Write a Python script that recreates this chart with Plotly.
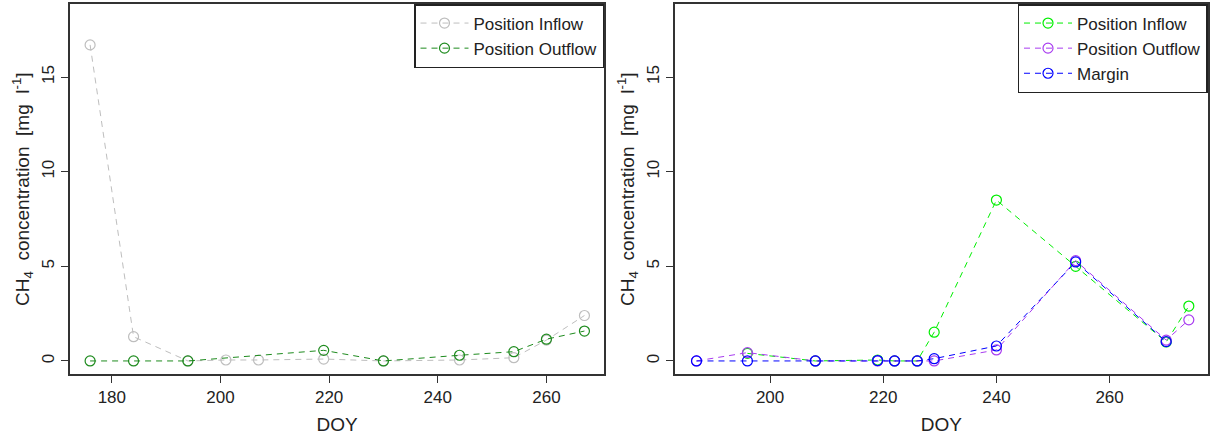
import plotly.graph_objects as go

# Left panel data
left_in_doy = [176, 184, 194, 201, 207, 219, 230, 244, 254, 260, 267]
left_in_val = [16.7, 1.28, 0.0, 0.05, 0.05, 0.1, 0.0, 0.05, 0.17, 1.1, 2.4]
left_out_doy = [176, 184, 194, 219, 230, 244, 254, 260, 267]
left_out_val = [0.0, 0.0, 0.0, 0.56, 0.0, 0.3, 0.49, 1.15, 1.58]

# Right panel data
right_in_doy = [196, 208, 219, 222, 226, 229, 240, 254, 270, 274]
right_in_val = [0.4, 0.0, 0.05, 0.0, 0.0, 1.52, 8.5, 5.0, 1.0, 2.9]
right_out_doy = [187, 196, 208, 219, 222, 226, 229, 240, 254, 270, 274]
right_out_val = [0.0, 0.44, 0.0, 0.0, 0.0, 0.0, 0.0, 0.58, 5.3, 1.1, 2.17]
right_mar_doy = [187, 196, 208, 219, 222, 226, 229, 240, 254, 270]
right_mar_val = [0.0, 0.0, 0.0, 0.02, 0.0, 0.0, 0.12, 0.79, 5.23, 1.02]

y_ticks = [0, 5, 10, 15]
left_x_ticks = [180, 200, 220, 240, 260]
right_x_ticks = [200, 220, 240, 260]

FONT = "Liberation Sans, Arial, sans-serif"

fig = go.Figure()

def add(x, y, name, color, xa, ya, legend):
    fig.add_trace(go.Scatter(
        x=x, y=y, name=name, mode="lines+markers",
        line=dict(color=color, width=1, dash="6px,5px"),
        marker=dict(symbol="circle-open", size=10, color=color, line=dict(width=1.2, color=color)),
        xaxis=xa, yaxis=ya, legend=legend,
    ))

add(left_in_doy, left_in_val, "Position Inflow", "#BEBEBE", "x", "y", "legend")
add(left_out_doy, left_out_val, "Position Outflow", "#1E8B1E", "x", "y", "legend")
add(right_in_doy, right_in_val, "Position Inflow", "#00EE00", "x2", "y2", "legend2")
add(right_out_doy, right_out_val, "Position Outflow", "#A83CF0", "x2", "y2", "legend2")
add(right_mar_doy, right_mar_val, "Margin", "#0000FF", "x2", "y2", "legend2")

ydom = [61/435, 431/435]
axis_common = dict(showline=True, linecolor="#333333", linewidth=1.5, mirror=True,
                   ticks="outside", ticklen=7, tickcolor="#333333", showgrid=False,
                   zeroline=False, tickfont=dict(family=FONT, size=17, color="#222222"))

leg_common = dict(xanchor="right", yanchor="top", bordercolor="#222222", borderwidth=1.5,
                  bgcolor="white", font=dict(size=17, family=FONT, color="#222222"),
                  tracegroupgap=0, itemwidth=48)

fig.update_layout(
    width=1210, height=435, margin=dict(l=0, r=0, t=0, b=0),
    paper_bgcolor="white", plot_bgcolor="white",
    font=dict(family=FONT, size=17, color="#222222"),
    xaxis=dict(domain=[70/1210, 604/1210], range=[172.3, 270.6], tickvals=left_x_ticks,
               title=dict(text="DOY", font=dict(size=19), standoff=12), **axis_common),
    yaxis=dict(domain=ydom, range=[-0.69, 18.86], tickvals=y_ticks, tickangle=-90,
               anchor="x", **axis_common),
    xaxis2=dict(domain=[675/1210, 1207.5/1210], range=[183.2, 277.3], tickvals=right_x_ticks,
                anchor="y2",
                title=dict(text="DOY", font=dict(size=19), standoff=12), **axis_common),
    yaxis2=dict(domain=ydom, range=[-0.69, 18.86], tickvals=y_ticks, tickangle=-90,
                anchor="x2", **axis_common),
    legend=dict(x=604/1210, y=431/435, **leg_common),
    legend2=dict(x=1207.5/1210, y=431/435, **leg_common),
    showlegend=True,
)

ytitle = "CH<sub>4</sub>&nbsp;&nbsp;concentration&nbsp;&nbsp;[mg&nbsp;&nbsp;l<sup>-1</sup>]"
for xpos in [22/1210, 627/1210]:
    fig.add_annotation(text=ytitle, textangle=-90, x=xpos, y=(374+65)/2/435 * 0 + (435 - (311+67)/2)/435,
                       xref="paper", yref="paper", showarrow=False,
                       xanchor="center", yanchor="middle",
                       font=dict(family=FONT, size=19, color="#222222"))

fig.write_html("out.html")
